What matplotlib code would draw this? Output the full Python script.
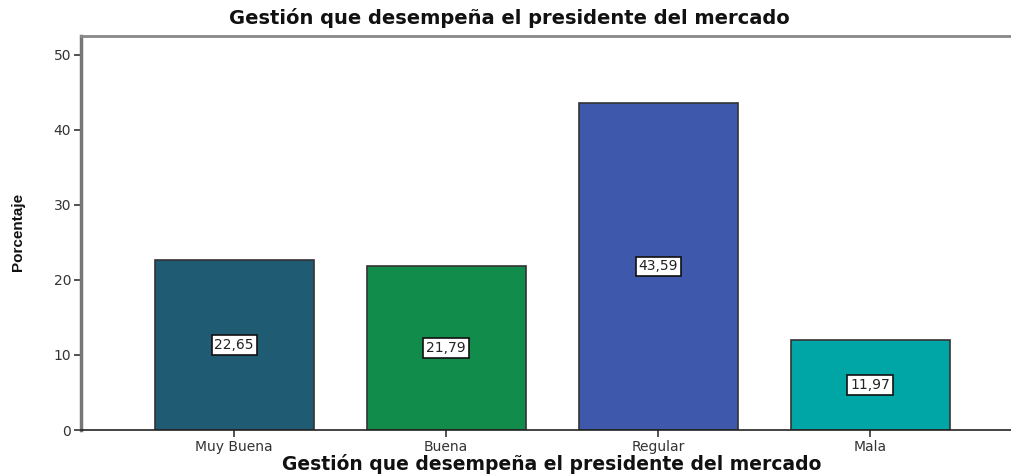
import matplotlib
matplotlib.use("Agg")
import matplotlib.pyplot as plt

categories = ["Muy Buena", "Buena", "Regular", "Mala"]
percentages = [22.65, 21.79, 43.59, 11.97]
bar_colors = ["#1f5c73", "#118c4a", "#3e58ab", "#00a6a6"]
y_ticks = [0, 10, 20, 30, 40, 50]

plt.rcParams["font.family"] = ["DejaVu Sans"]

fig = plt.figure(figsize=(10.11, 4.74), dpi=100)
ax = fig.add_axes([81 / 1011, 44 / 474, 1 - 81 / 1011, (430 - 36) / 474])

x = list(range(len(categories)))
ax.bar(x, percentages, width=0.75, color=bar_colors, edgecolor="#333333", linewidth=1.2, zorder=2)

for xi, v in zip(x, percentages):
    ax.text(xi, v / 2, f"{v:.2f}".replace(".", ","), ha="center", va="center", fontsize=10,
            color="#222222",
            bbox=dict(boxstyle="square,pad=0.2", facecolor="white", edgecolor="#111111", linewidth=1.2),
            zorder=3)

ax.set_xlim(-0.722, 3.665)
ax.set_ylim(0, 52.5)
ax.set_xticks(x)
ax.set_xticklabels(categories, fontsize=10, color="#333333")
ax.set_yticks(y_ticks)
ax.set_yticklabels([str(t) for t in y_ticks], fontsize=10, color="#333333")
ax.tick_params(axis="both", direction="out", length=5, width=1.2, color="#333333", pad=2)

ax.spines["right"].set_visible(False)
ax.spines["left"].set_color("#777777")
ax.spines["left"].set_linewidth(2.5)
ax.spines["top"].set_color("#888888")
ax.spines["top"].set_linewidth(2)
ax.spines["bottom"].set_color("#222222")
ax.spines["bottom"].set_linewidth(1.2)

fig.text(509 / 1011, 1 - 18 / 474, "Gestión que desempeña el presidente del mercado",
         ha="center", va="center", fontsize=14, fontweight="bold", color="#111111")
fig.text(552 / 1011, 1 - 464 / 474, "Gestión que desempeña el presidente del mercado",
         ha="center", va="center", fontsize=13.5, fontweight="bold", color="#111111")
fig.text(18 / 1011, 1 - 232 / 474, "Porcentaje", ha="center", va="center", rotation=90,
         fontsize=11, fontweight="bold", family=["Liberation Sans", "DejaVu Sans"],
         color="#111111")

fig.savefig("out.png", dpi=100)
